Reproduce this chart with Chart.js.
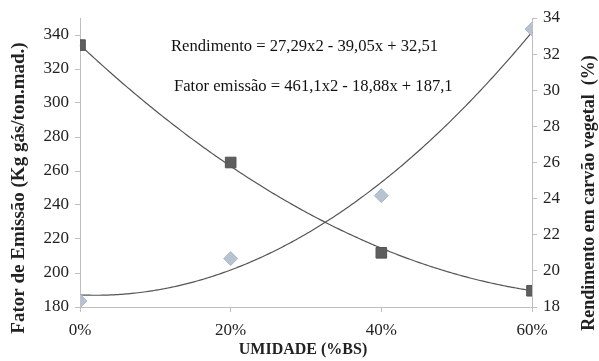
<!DOCTYPE html>
<html>
<head>
<meta charset="utf-8">
<script src="https://cdn.jsdelivr.net/npm/chart.js@4.4.0/dist/chart.umd.min.js"></script>
<style>
  html, body { margin: 0; padding: 0; background: #fff; }
  #wrap { position: relative; width: 599px; height: 361px; }
</style>
</head>
<body>
<div id="wrap"><canvas id="scatter-chart"></canvas></div>
<script>
// umidade (%BS) as fraction
const umidade = [0, 0.2, 0.4, 0.6];
// left axis series (diamonds)
const fatorEmissao = [183.5, 208.5, 245.5, 343.5];
// right axis series (squares)
const rendimento = [32.5, 26.0, 21.0, 18.9];
// trendline coefficients: a*x^2 + b*x + c
const fatorCoef = [461.1, -18.88, 187.1];
const rendCoef = [27.29, -39.05, 32.51];
const xTicks = [0, 0.2, 0.4, 0.6];
const leftTicks = [180, 200, 220, 240, 260, 280, 300, 320, 340];
const rightTicks = [18, 20, 22, 24, 26, 28, 30, 32, 34];
const equations = [
  "Rendimento = 27,29x2 - 39,05x + 32,51",
  "Fator emissão = 461,1x2 - 18,88x + 187,1"
];
const titles = {
  x: "UMIDADE (%BS)",
  left: "Fator de Emissão (Kg gás/ton.mad.)",
  right: "Rendimento em carvão vegetal  (%)"
};

const serif = "Liberation Serif";
const axisColor = "#bfbfbf";

function toPoints(xs, ys) {
  return xs.map((x, i) => ({ x: x, y: ys[i] }));
}

// trendlines through the chart scales + text labels
const trendPlugin = {
  id: "trend",
  beforeDatasetsDraw(chart) {
    const ctx = chart.ctx;
    const xs = chart.scales.x;
    const lines = [
      { coef: fatorCoef, scale: chart.scales.yLeft },
      { coef: rendCoef, scale: chart.scales.yRight }
    ];
    const x0 = xs.getPixelForValue(0);
    const x1 = xs.getPixelForValue(0.6);
    ctx.save();
    ctx.strokeStyle = "#555";
    ctx.lineWidth = 1.2;
    lines.forEach(l => {
      ctx.beginPath();
      for (let px = x0; px <= x1 + 0.5; px += 2) {
        const v = xs.getValueForPixel(px);
        const y = l.coef[0] * v * v + l.coef[1] * v + l.coef[2];
        const py = l.scale.getPixelForValue(y);
        if (px === x0) ctx.moveTo(px, py); else ctx.lineTo(px, py);
      }
      ctx.stroke();
    });
    ctx.restore();
  },
  afterDraw(chart) {
    const ctx = chart.ctx;
    ctx.save();
    ctx.fillStyle = "#111";
    ctx.font = "16.6px '" + serif + "', serif";
    ctx.textBaseline = "middle";
    ctx.fillText(equations[0], 171, 47);
    ctx.fillText(equations[1], 174, 87);

    ctx.fillStyle = "#222";
    ctx.textAlign = "center";
    ctx.font = "bold 16px '" + serif + "', serif";
    ctx.fillText(titles.x, 303, 350);

    ctx.font = "bold 19px '" + serif + "', serif";
    ctx.translate(19, 188);
    ctx.rotate(-Math.PI / 2);
    ctx.fillText(titles.left, 0, 0);
    ctx.setTransform(1, 0, 0, 1, 0, 0);

    ctx.font = "bold 18px '" + serif + "', serif";
    ctx.translate(589, 193);
    ctx.rotate(-Math.PI / 2);
    ctx.fillText(titles.right, 0, 0);
    ctx.restore();
  }
};

const tickFont = { family: serif, size: 17 };

new Chart(document.getElementById("scatter-chart"), {
  type: "scatter",
  data: {
    datasets: [
      {
        label: "Fator emissão",
        data: toPoints(umidade, fatorEmissao),
        yAxisID: "yLeft",
        pointStyle: "rectRot",
        pointRadius: 7,
        backgroundColor: "#b9c3cf",
        borderColor: "#a9b9cd",
        borderWidth: 1
      },
      {
        label: "Rendimento",
        data: toPoints(umidade, rendimento),
        yAxisID: "yRight",
        pointStyle: "rect",
        pointRadius: 7.5,
        backgroundColor: "#5e5e5e",
        borderColor: "#545454",
        borderWidth: 1
      }
    ]
  },
  options: {
    responsive: true,
    maintainAspectRatio: false,
    animation: false,
    layout: { padding: { top: 18, left: 0, right: 0, bottom: 0 } },
    plugins: { legend: { display: false }, tooltip: { enabled: false } },
    scales: {
      x: {
        type: "linear",
        min: 0,
        max: 0.6,
        afterBuildTicks: s => { s.ticks = xTicks.map(v => ({ value: v })); },
        afterFit: s => { s.height = 54; },
        ticks: {
          font: tickFont,
          color: "#222",
          padding: 8,
          callback: v => Math.round(v * 100) + "%"
        },
        grid: { display: true, drawOnChartArea: false, drawTicks: true, tickLength: 5, color: axisColor },
        border: { display: true, color: axisColor }
      },
      yLeft: {
        type: "linear",
        position: "left",
        min: 180,
        max: 350,
        afterBuildTicks: s => { s.ticks = leftTicks.map(v => ({ value: v })); },
        afterFit: s => { s.width = 80; },
        ticks: { font: tickFont, color: "#222", padding: 6 },
        grid: { display: true, drawOnChartArea: false, drawTicks: true, tickLength: 5, color: axisColor },
        border: { display: true, color: axisColor }
      },
      yRight: {
        type: "linear",
        position: "right",
        min: 18,
        max: 34,
        afterBuildTicks: s => { s.ticks = rightTicks.map(v => ({ value: v })); },
        afterFit: s => { s.width = 67; },
        ticks: { font: tickFont, color: "#222", padding: 6 },
        grid: { display: true, drawOnChartArea: false, drawTicks: true, tickLength: 5, color: axisColor },
        border: { display: true, color: axisColor }
      }
    }
  },
  plugins: [trendPlugin]
});
</script>
</body>
</html>
